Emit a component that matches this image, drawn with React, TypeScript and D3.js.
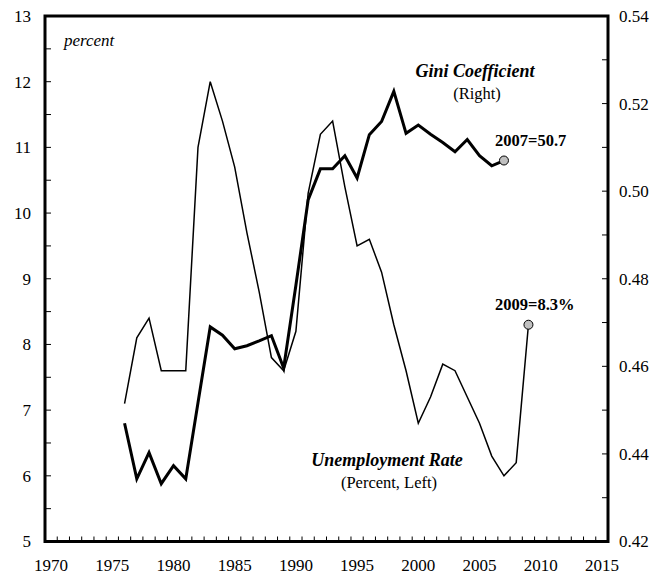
import React from "react";
import * as d3 from "d3";

const unempYears = [1976, 1977, 1978, 1979, 1980, 1981, 1982, 1983, 1984, 1985, 1986, 1987, 1988, 1989, 1990, 1991, 1992, 1993, 1994, 1995, 1996, 1997, 1998, 1999, 2000, 2001, 2002, 2003, 2004, 2005, 2006, 2007, 2008, 2009];
const unempValues = [7.1, 8.1, 8.4, 7.6, 7.6, 7.6, 11.0, 12.0, 11.4, 10.7, 9.7, 8.8, 7.8, 7.6, 8.2, 10.3, 11.2, 11.4, 10.4, 9.5, 9.6, 9.1, 8.3, 7.6, 6.8, 7.2, 7.7, 7.6, 7.2, 6.8, 6.3, 6.0, 6.2, 8.3];

const giniYears = [1976, 1977, 1978, 1979, 1980, 1981, 1982, 1983, 1984, 1985, 1986, 1987, 1988, 1989, 1990, 1991, 1992, 1993, 1994, 1995, 1996, 1997, 1998, 1999, 2000, 2001, 2002, 2003, 2004, 2005, 2006, 2007];
const giniValues = [0.447, 0.4343, 0.4403, 0.4332, 0.4373, 0.4343, 0.4517, 0.469, 0.4671, 0.464, 0.4647, 0.4658, 0.467, 0.4596, 0.4785, 0.498, 0.5051, 0.5051, 0.5081, 0.503, 0.5129, 0.5159, 0.5228, 0.5132, 0.5151, 0.513, 0.5111, 0.509, 0.5118, 0.5081, 0.5058, 0.507];

const leftTicks = [5, 6, 7, 8, 9, 10, 11, 12, 13];
const leftMinorTicks = [5.5, 6.5, 7.5, 8.5, 9.5, 10.5, 11.5, 12.5];
const rightTicks = [0.42, 0.44, 0.46, 0.48, 0.5, 0.52, 0.54];
const rightMinorTicks = [0.43, 0.45, 0.47, 0.49, 0.51, 0.53];
const xLabels = [1970, 1975, 1980, 1985, 1990, 1995, 2000, 2005, 2010, 2015];
const allYears = [1970, 1971, 1972, 1973, 1974, 1975, 1976, 1977, 1978, 1979, 1980, 1981, 1982, 1983, 1984, 1985, 1986, 1987, 1988, 1989, 1990, 1991, 1992, 1993, 1994, 1995, 1996, 1997, 1998, 1999, 2000, 2001, 2002, 2003, 2004, 2005, 2006, 2007, 2008, 2009, 2010, 2011, 2012, 2013, 2014, 2015];

const FONT = "Liberation Serif, Times New Roman, Times, serif";

export default function App() {
  const W = 657, H = 575;
  const L = 45, R = 608, T = 16, B = 541.5;

  const x = d3.scaleBand<number>().domain(allYears).range([L, R]).padding(0);
  const xc = (yr: number) => (x(yr) as number) + x.bandwidth() / 2;
  const yL = d3.scaleLinear().domain([5, 13]).range([B, T]);
  const yR = d3.scaleLinear().domain([0.42, 0.54]).range([B, T]);

  const unempLine = d3.line<number>().x((_, i) => xc(unempYears[i])).y((d) => yL(d))(unempValues) || "";
  const giniLine = d3.line<number>().x((_, i) => xc(giniYears[i])).y((d) => yR(d))(giniValues) || "";

  const boundaries = allYears.map((yr) => x(yr) as number).concat([R]);

  const lastU = unempValues.length - 1;
  const lastG = giniValues.length - 1;
  const ts: React.CSSProperties = { fontFamily: FONT };

  return (
    <svg width={W} height={H} style={{ position: "absolute", left: 0, top: 0, background: "#fff" }}>
      <rect x={0} y={0} width={W} height={H} fill="#fff" />
      <path d={unempLine} fill="none" stroke="#000" strokeWidth={1.5} strokeLinejoin="miter" />
      <path d={giniLine} fill="none" stroke="#000" strokeWidth={3} strokeLinejoin="miter" />

      {boundaries.map((bx, i) => (
        <line key={"xt" + i} x1={bx} x2={bx} y1={B} y2={B - 5} stroke="#000" strokeWidth={1} />
      ))}
      {leftTicks.concat(leftMinorTicks).map((v, i) => (
        <line key={"lt" + i} x1={L} x2={L + 6} y1={yL(v)} y2={yL(v)} stroke="#000" strokeWidth={1} />
      ))}
      {rightTicks.concat(rightMinorTicks).map((v, i) => (
        <line key={"rt" + i} x1={R} x2={R - 6} y1={yR(v)} y2={yR(v)} stroke="#000" strokeWidth={1} />
      ))}

      <rect x={L} y={T} width={R - L} height={B - T} fill="none" stroke="#000" strokeWidth={3} />

      <g style={ts}>
        {leftTicks.map((v) => (
          <text key={"ll" + v} x={31} y={yL(v)} dy="0.35em" textAnchor="end" fontSize={17}>{v}</text>
        ))}
        {rightTicks.map((v) => (
          <text key={"rl" + v} x={619} y={yR(v)} dy="0.35em" textAnchor="start" fontSize={17}>{v.toFixed(2)}</text>
        ))}
        {xLabels.map((yr) => (
          <text key={"xl" + yr} x={xc(yr)} y={571} textAnchor="middle" fontSize={17}>{yr}</text>
        ))}

        <text x={64} y={46} fontSize={17} fontStyle="italic">percent</text>
        <text x={475} y={77} fontSize={18} fontStyle="italic" fontWeight="bold" textAnchor="middle">Gini Coefficient</text>
        <text x={477} y={99} fontSize={16.5} textAnchor="middle">(Right)</text>
        <text x={495} y={146} fontSize={16.5} fontWeight="bold">2007=50.7</text>
        <text x={495} y={309.5} fontSize={16.5} fontWeight="bold">2009=8.3%</text>
        <text x={387} y={466} fontSize={18} fontStyle="italic" fontWeight="bold" textAnchor="middle">Unemployment Rate</text>
        <text x={389} y={488} fontSize={16.5} textAnchor="middle">(Percent, Left)</text>
      </g>

      <circle cx={xc(giniYears[lastG])} cy={yR(giniValues[lastG])} r={4.5} fill="#c0c0c0" stroke="#000" strokeWidth={1} />
      <circle cx={xc(unempYears[lastU])} cy={yL(unempValues[lastU])} r={4.5} fill="#c0c0c0" stroke="#000" strokeWidth={1} />
    </svg>
  );
}
